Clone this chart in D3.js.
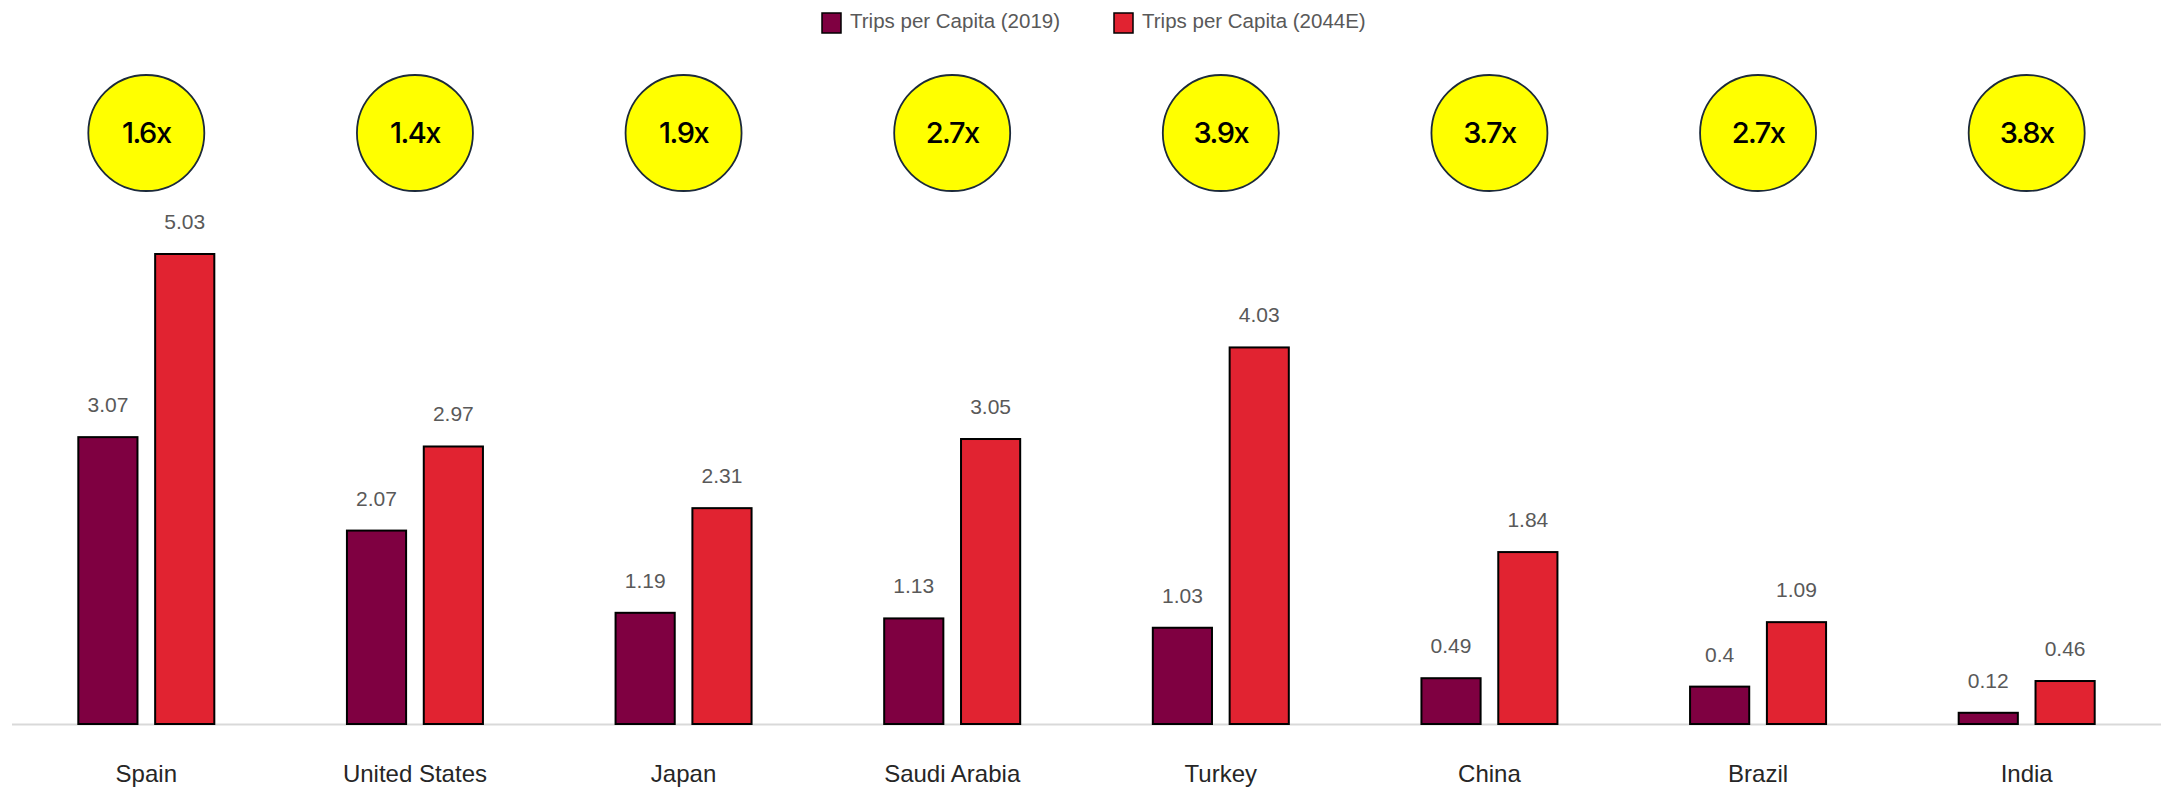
<!DOCTYPE html>
<html><head><meta charset="utf-8">
<script src="https://cdn.jsdelivr.net/npm/d3@7"></script>
<style>
html,body{margin:0;padding:0;background:#fff;}
svg{display:block;}
</style></head>
<body>
<svg id="chart" width="2165" height="789"></svg>
<script>
const categories = ["Spain","United States","Japan","Saudi Arabia","Turkey","China","Brazil","India"];
const trips2019 = [3.07, 2.07, 1.19, 1.13, 1.03, 0.49, 0.4, 0.12];
const trips2044 = [5.03, 2.97, 2.31, 3.05, 4.03, 1.84, 1.09, 0.46];
const multipliers = ["1.6x","1.4x","1.9x","2.7x","3.9x","3.7x","2.7x","3.8x"];
const seriesNames = ["Trips per Capita (2019)", "Trips per Capita (2044E)"];
const seriesColors = ["#7f0041", "#e12331"];

const svg = d3.select("#chart");
const baseY = 724;
const x = d3.scaleBand().domain(categories).range([12, 2161]).paddingInner(0).paddingOuter(0);
const sub = d3.scaleBand().domain([0,1]).range([-68, 68]).paddingInner(0.23).paddingOuter(0);
const y = d3.scaleLinear().domain([0, 5.03]).range([baseY, 254]);

const labelFont = "'Liberation Sans', Arial, sans-serif";

// axis line
svg.append("line").attr("x1", 12).attr("x2", 2161).attr("y1", baseY + 0.5).attr("y2", baseY + 0.5)
  .attr("stroke", "#d9d9d9").attr("stroke-width", 2);

const series = [trips2019, trips2044];
series.forEach((vals, si) => {
  const g = svg.append("g");
  g.selectAll("rect").data(categories).join("rect")
    .attr("x", (c) => x(c) + x.bandwidth()/2 + sub(si))
    .attr("width", sub.bandwidth())
    .attr("y", (c, i) => y(vals[i]))
    .attr("height", (c, i) => baseY - y(vals[i]))
    .attr("fill", seriesColors[si])
    .attr("stroke", "#000").attr("stroke-width", 2);
  g.selectAll("text").data(categories).join("text")
    .attr("x", (c) => x(c) + x.bandwidth()/2 + sub(si) + sub.bandwidth()/2)
    .attr("y", (c, i) => y(vals[i]) - 25)
    .attr("text-anchor", "middle")
    .attr("font-family", labelFont).attr("font-size", 21)
    .attr("fill", "#595959")
    .text((c, i) => vals[i]);
});

// category labels
svg.append("g").selectAll("text").data(categories).join("text")
  .attr("x", c => x(c) + x.bandwidth()/2)
  .attr("y", 782)
  .attr("text-anchor", "middle")
  .attr("font-family", labelFont).attr("font-size", 24)
  .attr("fill", "#262626")
  .text(c => c);

// multiplier circles
const cg = svg.append("g");
cg.selectAll("circle").data(categories).join("circle")
  .attr("cx", c => x(c) + x.bandwidth()/2)
  .attr("cy", 133).attr("r", 58)
  .attr("fill", "#ffff00").attr("stroke", "#1c2a3a").attr("stroke-width", 1.8);
cg.selectAll("text").data(categories).join("text")
  .attr("x", c => x(c) + x.bandwidth()/2)
  .attr("y", 143)
  .attr("text-anchor", "middle")
  .attr("font-family", "Inter, 'DejaVu Sans', sans-serif").attr("font-size", 29)
  .attr("font-weight", 500).attr("letter-spacing", -1.5)
  .attr("fill", "#000")
  .text((c, i) => multipliers[i]);

// legend
const legendX = [822, 1114];
seriesNames.forEach((n, i) => {
  svg.append("rect").attr("x", legendX[i]).attr("y", 13).attr("width", 19).attr("height", 20)
    .attr("fill", seriesColors[i]).attr("stroke", "#000").attr("stroke-width", 1.5);
  svg.append("text").attr("x", legendX[i] + 28).attr("y", 28)
    .attr("font-family", labelFont).attr("font-size", 20.5).attr("fill", "#595959")
    .text(n);
});
</script>
</body></html>
